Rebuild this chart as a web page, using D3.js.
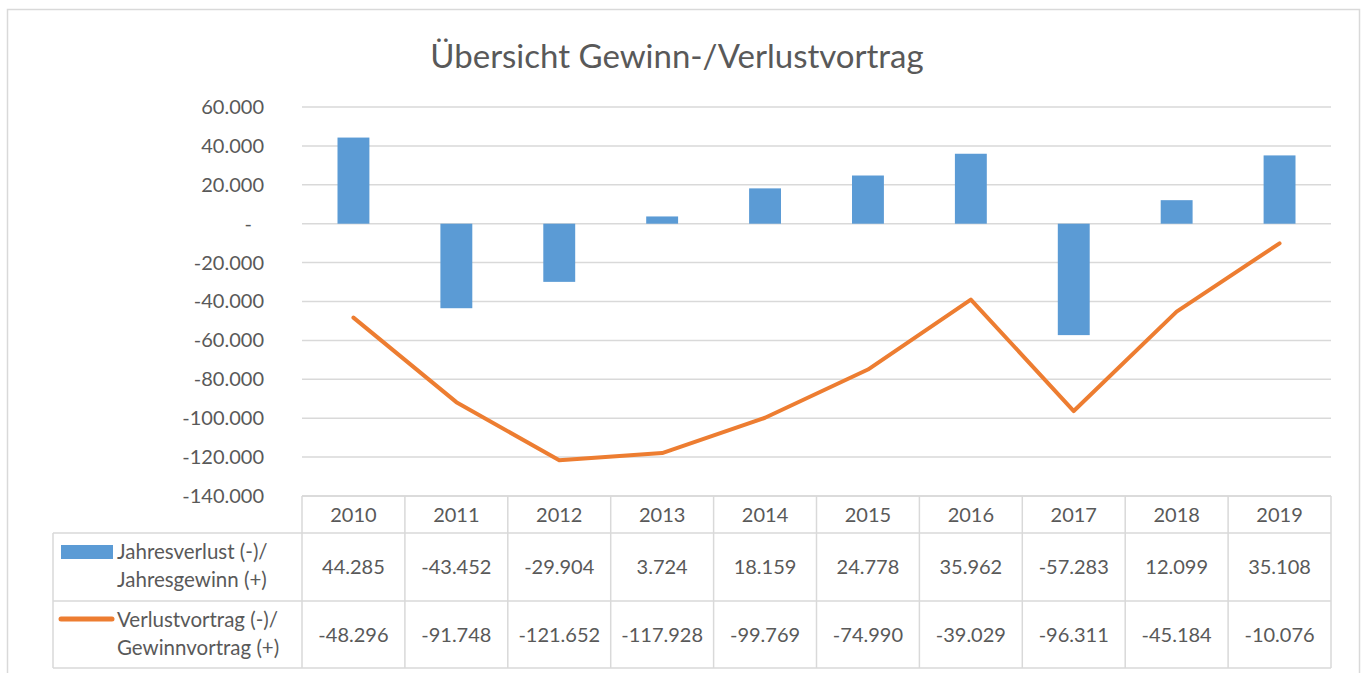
<!doctype html>
<html>
<head>
	<meta charset="utf-8">
	<title>Übersicht Gewinn-/Verlustvortrag</title>
	<script src="https://d3js.org/d3.v7.min.js"></script>
	<style>
		body { margin: 0; background: #fff; }
		svg text { font-family: Lato, "Open Sans", sans-serif; fill: #595959; }
	</style>
</head>
<body>
	<div id="chart"></div>
	<script>
		// Data
		const years = ['2010', '2011', '2012', '2013', '2014', '2015', '2016', '2017', '2018', '2019'];
		const jahresergebnis = [44285, -43452, -29904, 3724, 18159, 24778, 35962, -57283, 12099, 35108];
		const vortrag = [-48296, -91748, -121652, -117928, -99769, -74990, -39029, -96311, -45184, -10076];
		const yTicks = [60000, 40000, 20000, 0, -20000, -40000, -60000, -80000, -100000, -120000, -140000];
		const seriesNames = [
			['Jahresverlust (-)/', 'Jahresgewinn (+)'],
			['Verlustvortrag (-)/', 'Gewinnvortrag (+)']
		];
		const title = 'Übersicht Gewinn-/Verlustvortrag';

		const W = 1365, H = 673;
		const plot = { left: 302, right: 1331, top: 107, bottom: 496 };
		const rowTop = [496, 533, 601, 668]; // header, row1, row2, bottom
		const legendLeft = 53;
		const gridColor = '#d9d9d9';
		const blue = '#5b9bd5', orange = '#ed7d31';

		// German number format, plain hyphen as minus sign
		const de = d3.formatLocale({ decimal: ',', thousands: '.', grouping: [3], currency: ['', ' €'], minus: '-' });
		const fmt = de.format(',d');

		const svg = d3.select('#chart').append('svg')
			.attr('width', W)
			.attr('height', H);

		// outer chart frame
		svg.append('rect')
			.attr('x', 7.5).attr('y', 9.5)
			.attr('width', 1352).attr('height', 700)
			.attr('fill', 'none')
			.attr('stroke', gridColor)
			.attr('stroke-width', 1.5);

		// title
		svg.append('text')
			.attr('x', 677)
			.attr('y', 68)
			.attr('text-anchor', 'middle')
			.attr('font-size', '33px')
			.text(title);

		const x = d3.scaleBand()
			.domain(years)
			.range([plot.left, plot.right])
			.padding(0);

		const y = d3.scaleLinear()
			.domain([-140000, 60000])
			.range([plot.bottom, plot.top]);

		// gridlines
		svg.append('g')
			.selectAll('line')
			.data(yTicks)
			.join('line')
			.attr('x1', plot.left)
			.attr('x2', plot.right)
			.attr('y1', d => y(d))
			.attr('y2', d => y(d))
			.attr('stroke', gridColor)
			.attr('stroke-width', 1.5);

		// y axis labels
		const yAxis = svg.append('g')
			.attr('transform', 'translate(' + (plot.left - 38) + ',0)')
			.call(d3.axisLeft(y).tickValues(yTicks).tickSize(0).tickPadding(0)
				.tickFormat(d => d === 0 ? '-' : fmt(d)));
		yAxis.select('.domain').remove();
		yAxis.selectAll('text')
			.attr('font-size', '20px')
			.attr('fill', '#595959')
			.attr('font-family', 'Lato, sans-serif')
			.attr('dx', d => d === 0 ? -12 : 0);

		// bars
		const barW = x.bandwidth() * 0.31;
		svg.append('g')
			.selectAll('rect')
			.data(jahresergebnis)
			.join('rect')
			.attr('x', (d, i) => x(years[i]) + (x.bandwidth() - barW) / 2)
			.attr('y', d => y(Math.max(0, d)))
			.attr('width', barW)
			.attr('height', d => Math.abs(y(d) - y(0)))
			.attr('fill', blue);

		// line
		const line = d3.line()
			.x((d, i) => x(years[i]) + x.bandwidth() / 2)
			.y(d => y(d));
		svg.append('path')
			.datum(vortrag)
			.attr('d', line)
			.attr('fill', 'none')
			.attr('stroke', orange)
			.attr('stroke-width', 4)
			.attr('stroke-linecap', 'round')
			.attr('stroke-linejoin', 'round');

		// data table
		const table = svg.append('g');
		// horizontal lines
		table.append('line')
			.attr('x1', plot.left).attr('x2', plot.right)
			.attr('y1', rowTop[0]).attr('y2', rowTop[0]);
		[1, 2, 3].forEach(r => {
			table.append('line')
				.attr('x1', legendLeft).attr('x2', plot.right)
				.attr('y1', rowTop[r]).attr('y2', rowTop[r]);
		});
		// vertical lines
		years.forEach(yr => {
			table.append('line')
				.attr('x1', x(yr)).attr('x2', x(yr))
				.attr('y1', rowTop[0]).attr('y2', rowTop[3]);
		});
		table.append('line')
			.attr('x1', plot.right).attr('x2', plot.right)
			.attr('y1', rowTop[0]).attr('y2', rowTop[3]);
		table.append('line')
			.attr('x1', legendLeft).attr('x2', legendLeft)
			.attr('y1', rowTop[1]).attr('y2', rowTop[3]);
		table.selectAll('line')
			.attr('stroke', gridColor)
			.attr('stroke-width', 1.5);

		// header years
		table.append('g')
			.selectAll('text')
			.data(years)
			.join('text')
			.attr('x', d => x(d) + x.bandwidth() / 2)
			.attr('y', 522)
			.attr('text-anchor', 'middle')
			.attr('font-size', '20px')
			.text(d => d);

		// values
		[jahresergebnis, vortrag].forEach((vals, r) => {
			table.append('g')
				.selectAll('text')
				.data(vals)
				.join('text')
				.attr('x', (d, i) => x(years[i]) + x.bandwidth() / 2)
				.attr('y', r === 0 ? 574 : 642)
				.attr('text-anchor', 'middle')
				.attr('font-size', '20px')
				.text(d => fmt(d));
		});

		// legend keys inside the table
		table.append('rect')
			.attr('x', 61).attr('y', 545)
			.attr('width', 52).attr('height', 14)
			.attr('fill', blue);
		table.append('line')
			.attr('x1', 61).attr('x2', 112)
			.attr('y1', 619).attr('y2', 619)
			.attr('stroke', orange)
			.attr('stroke-width', 5)
			.attr('stroke-linecap', 'round');

		seriesNames.forEach((lines, r) => {
			const base = r === 0 ? 559 : 627;
			lines.forEach((t, k) => {
				table.append('text')
					.attr('x', 117)
					.attr('y', base + k * 28)
					.attr('font-size', '20.5px')
					.text(t);
			});
		});
	</script>
</body>
</html>
